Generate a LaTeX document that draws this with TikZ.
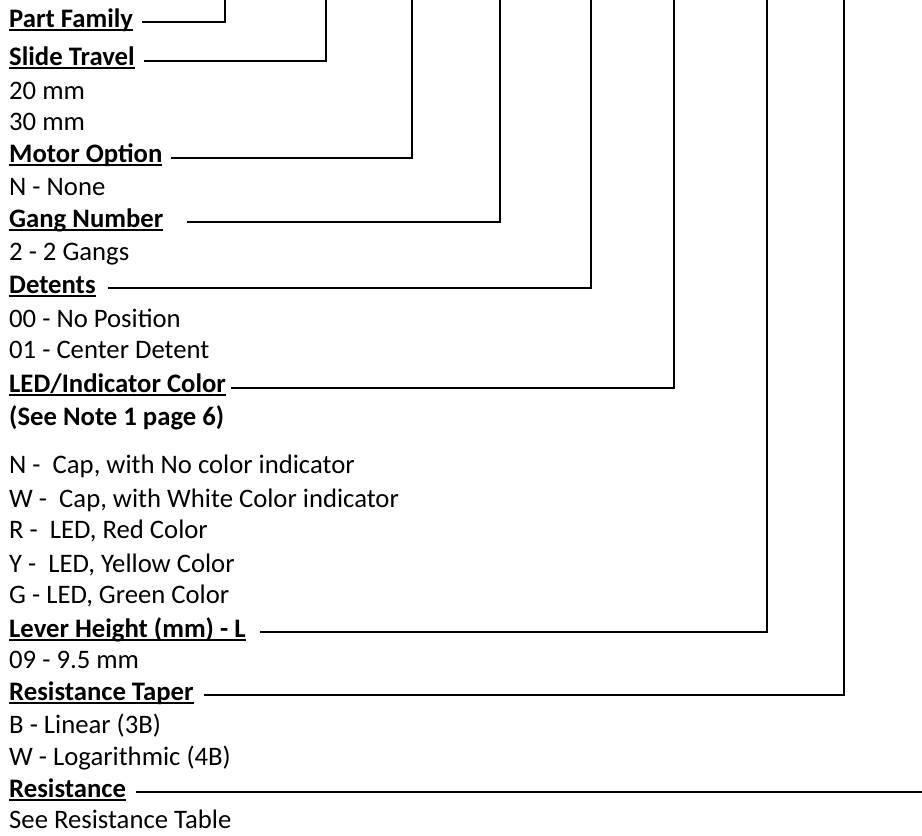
\documentclass[tikz,border=0pt]{standalone}
\usepackage{fontspec}
\setmainfont{Carlito}
\newsavebox{\ulbox}
\newcommand{\myul}[1]{\sbox{\ulbox}{#1}\rlap{\rule[-3.5pt]{\wd\ulbox}{1.7pt}}\usebox{\ulbox}}
\tikzset{
  lbl/.style={anchor=base west, inner sep=0pt, font=\fontsize{26.7}{31}\selectfont},
  hdr/.style={lbl, font=\fontsize{26.7}{31}\selectfont\bfseries},
  conn/.style={draw=black, line width=1.7pt}
}
\begin{document}
\begin{tikzpicture}[x=1pt,y=-1pt]
\useasboundingbox (0,0) rectangle (922,836);
% headers
\node[hdr] (pf) at (9,27) {\myul{Part Family}};
\node[hdr] (st) at (9,65) {\myul{Slide Travel}};
\node[lbl] (st1) at (9,99) {20 mm};
\node[lbl] (st2) at (9,130) {30 mm};
\node[hdr] (mo) at (9,162) {\myul{Motor Option}};
\node[lbl] (mo1) at (9,195) {N - None};
\node[hdr] (gn) at (9,227) {\myul{Gang Number}};
\node[lbl] (gn1) at (9,260) {2 - 2 Gangs};
\node[hdr] (de) at (9,293) {\myul{Detents}};
\node[lbl] (de1) at (9,327) {00 - No Position};
\node[lbl] (de2) at (9,358) {01 - Center Detent};
\node[hdr] (led) at (9,392) {\myul{LED/Indicator Color}};
\node[hdr] (note) at (9,425) {(See Note 1 page 6)};
\node[lbl] (led1) at (9,473) {N -\ \ Cap, with No color indicator};
\node[lbl] (led2) at (9,507) {W -\ \ Cap, with White Color indicator};
\node[lbl] (led3) at (9,538) {R -\ \ LED, Red Color};
\node[lbl] (led4) at (9,572) {Y -\ \ LED, Yellow Color};
\node[lbl] (led5) at (9,603) {G - LED, Green Color};
\node[hdr] (lh) at (9,637) {\myul{Lever Height (mm) - L}};
\node[lbl] (lh1) at (9,668) {09 - 9.5 mm};
\node[hdr] (rt) at (9,700) {\myul{Resistance Taper}};
\node[lbl] (rt1) at (9,733) {B - Linear (3B)};
\node[lbl] (rt2) at (9,765) {W - Logarithmic (4B)};
\node[hdr] (rs) at (9,797) {\myul{Resistance}};
\node[lbl] (rs1) at (9,828) {See Resistance Table};
% connector ends
\coordinate (pft) at (225,0);
\coordinate (stt) at (326,0);
\coordinate (mot) at (412,0);
\coordinate (gnt) at (500,0);
\coordinate (det) at (591,0);
\coordinate (ledt) at (674,0);
\coordinate (lht) at (767,0);
\coordinate (rtt) at (844,0);
\coordinate (rse) at (922,792);
% connectors
\draw[conn] ([shift={(9pt,5pt)}]pf.base east) -| (pft);
\draw[conn] ([shift={(9pt,4pt)}]st.base east) -| (stt);
\draw[conn] ([shift={(8pt,4pt)}]mo.base east) -| (mot);
\draw[conn] ([shift={(23pt,5pt)}]gn.base east) -| (gnt);
\draw[conn] ([shift={(12pt,5pt)}]de.base east) -| (det);
\draw[conn] ([shift={(5pt,4pt)}]led.base east) -| (ledt);
\draw[conn] ([shift={(14pt,5pt)}]lh.base east) -| (lht);
\draw[conn] ([shift={(10pt,5pt)}]rt.base east) -| (rtt);
\draw[conn] ([shift={(10pt,5pt)}]rs.base east) -- (rse);
\end{tikzpicture}
\end{document}
